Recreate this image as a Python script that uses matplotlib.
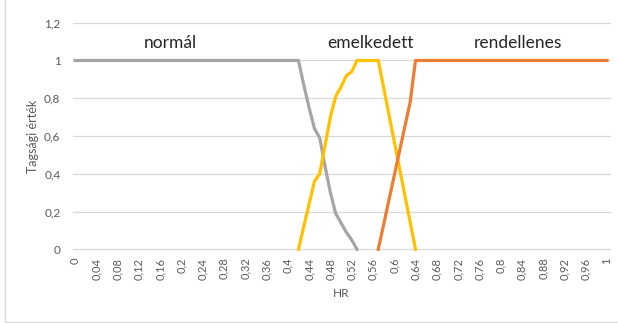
import matplotlib.pyplot as plt
from matplotlib.lines import Line2D

# breakpoints of the three membership functions (HR -> membership)
hr_normal = [0, 0.42, 0.43, 0.44, 0.45, 0.46, 0.47, 0.48, 0.49, 0.50, 0.51, 0.52, 0.53]
normal = [1, 1, 0.87, 0.75, 0.64, 0.59, 0.44, 0.30, 0.19, 0.14, 0.09, 0.05, 0]

hr_elevated = [0.42, 0.43, 0.44, 0.45, 0.46, 0.47, 0.48, 0.49, 0.50, 0.51, 0.52, 0.53, 0.57, 0.64]
elevated = [0, 0.12, 0.24, 0.36, 0.40, 0.55, 0.70, 0.81, 0.86, 0.92, 0.94, 1, 1, 0]

hr_abnormal = [0.57, 0.58, 0.59, 0.60, 0.61, 0.62, 0.63, 0.64, 1]
abnormal = [0, 0.13, 0.26, 0.39, 0.52, 0.65, 0.78, 1, 1]

xticks = [i / 100 for i in range(0, 101, 4)]
yticks = [0, 0.2, 0.4, 0.6, 0.8, 1, 1.2]


def fmt(v):
    s = ('%.2f' % v).rstrip('0').rstrip('.')
    return s.replace('.', ',')


plt.rcParams['font.family'] = ['Lato', 'DejaVu Sans']
grey = '#595959'

fig = plt.figure(figsize=(6.18, 3.23), dpi=100)
ax = fig.add_axes([73 / 618, (323 - 249.3) / 323, (610 - 73) / 618, (249.3 - 22.7) / 323])

for y in yticks:
    ax.axhline(y, color='#d9d9d9', lw=0.9, zorder=0, clip_on=False)

ax.plot(hr_normal, normal, color='#a5a5a5', lw=2.3, clip_on=False, solid_joinstyle='round')
ax.plot(hr_elevated, elevated, color='#ffc000', lw=2.3, clip_on=False, solid_joinstyle='round')
ax.plot(hr_abnormal, abnormal, color='#ed7d31', lw=2.3, clip_on=False, solid_joinstyle='round')

ax.set_xlim(-0.0038, 1.0056)
ax.set_ylim(0, 1.2)
ax.set_xticks(xticks)
ax.set_xticklabels([fmt(v) for v in xticks], rotation=90)
ax.set_yticks(yticks)
ax.set_yticklabels([fmt(v) for v in yticks])
ax.tick_params(length=0, labelsize=8, colors=grey)
ax.tick_params(axis='x', pad=6)
ax.tick_params(axis='y', pad=9, labelsize=8.5)
for s in ax.spines.values():
    s.set_visible(False)

ax.set_xlabel('HR', fontsize=8.5, color=grey, labelpad=6)
ax.set_ylabel('Tagsági érték', fontsize=9, color=grey, labelpad=4)

ax.text(0.179, 1.093, 'normál', fontsize=12.5, color='#262626', ha='center', va='center')
ax.text(0.556, 1.093, 'emelkedett', fontsize=12.5, color='#262626', ha='center', va='center')
ax.text(0.833, 1.093, 'rendellenes', fontsize=12.5, color='#262626', ha='center', va='center')

# chart area border
fig.add_artist(Line2D([4.5 / 618, 4.5 / 618], [1.5 / 323, 1], color='#d9d9d9', lw=1))
fig.add_artist(Line2D([4.5 / 618, 1], [1.5 / 323, 1.5 / 323], color='#d9d9d9', lw=1))

fig.savefig('out.png', dpi=100)
